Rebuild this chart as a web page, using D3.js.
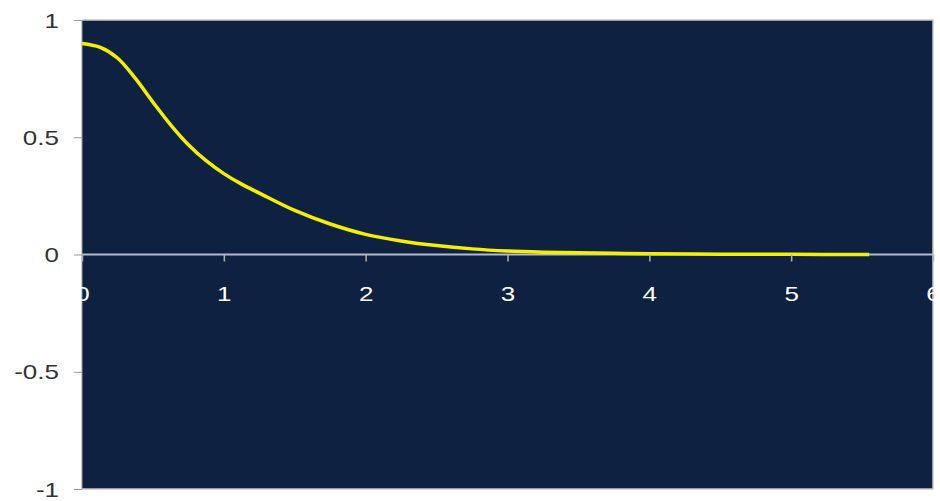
<!DOCTYPE html>
<html><head><meta charset="utf-8">
<script src="https://cdn.jsdelivr.net/npm/d3@7"></script>
<style>html,body{margin:0;padding:0;background:#fff;}svg{display:block;}</style>
</head><body>
<svg id="chart" width="940" height="501"></svg>
<script>
const xValues = [0,0.125,0.25,0.375,0.5,0.625,0.75,0.875,1.0,1.125,1.25,1.5,1.75,2.0,2.25,2.5,2.75,3.0,3.25,3.5,3.75,4.0,4.5,5.0,5.55];
const yValues = [0.90,0.884,0.838,0.752,0.650,0.553,0.468,0.400,0.345,0.300,0.262,0.188,0.130,0.086,0.058,0.038,0.024,0.015,0.010,0.007,0.005,0.003,0.0015,0.0007,0.0003];
const xTicks = [0,1,2,3,4,5,6];
const yTicks = [1,0.5,0,-0.5,-1];

const svg = d3.select("#chart");
const L = 82, R = 933, T = 20, B = 489;
const x = d3.scaleLinear().domain([0,6]).range([L,R]);
const y = d3.scaleLinear().domain([-1,1]).range([B,T]);
const FONT = "'Liberation Sans', Arial, sans-serif";
const SX = 1.3;

// plot background
svg.append("rect").attr("x",L).attr("y",T).attr("width",R-L).attr("height",B-T)
  .attr("fill","#0f2141");
// border right/bottom
svg.append("path").attr("d",`M${L},${T}H${R}V${B}H${L}`).attr("fill","none")
  .attr("stroke","#c8c8c8").attr("stroke-width",1.5);
svg.append("line").attr("x1",L).attr("x2",L).attr("y1",T).attr("y2",B)
  .attr("stroke","#9a9a9a").attr("stroke-width",1);

// y axis
const yAxis = d3.axisLeft(y).tickValues(yTicks).tickSize(8).tickPadding(0)
  .tickFormat(d => String(d));
const gy = svg.append("g").attr("transform",`translate(${L},0)`).call(yAxis);
gy.select(".domain").remove();
gy.selectAll("line").attr("stroke","#999");
gy.selectAll("text")
  .attr("x",0).attr("dy","0.36em")
  .attr("transform",`translate(-23,0) scale(${SX},1)`)
  .attr("fill","#333").style("font-family",FONT).style("font-size","20px");

// zero axis line
svg.append("line").attr("x1",L).attr("x2",R).attr("y1",y(0)).attr("y2",y(0))
  .attr("stroke","#b4bccb").attr("stroke-width",2);

// curve
const pts = xValues.map((v,i)=>[v,yValues[i]]);
svg.append("path").datum(pts)
  .attr("d", d3.line().x(d=>x(d[0])).y(d=>y(d[1])).curve(d3.curveCatmullRom.alpha(0.5)))
  .attr("fill","none").attr("stroke","#f5f000").attr("stroke-width",3.5);

// x axis on zero line
const xAxis = d3.axisBottom(x).tickValues(xTicks).tickSize(7).tickPadding(0)
  .tickFormat(d3.format("d"));
const gx = svg.append("g").attr("transform",`translate(0,${y(0)})`).call(xAxis);
gx.select(".domain").remove();
gx.selectAll("line").attr("stroke","#b0b0b0").attr("stroke-width",1.5);
gx.selectAll("text")
  .attr("y",0).attr("dy",0)
  .attr("transform",`translate(0,46) scale(${SX},1)`)
  .attr("fill","#ffffff").style("font-family",FONT).style("font-size","20px");
</script>
</body></html>
